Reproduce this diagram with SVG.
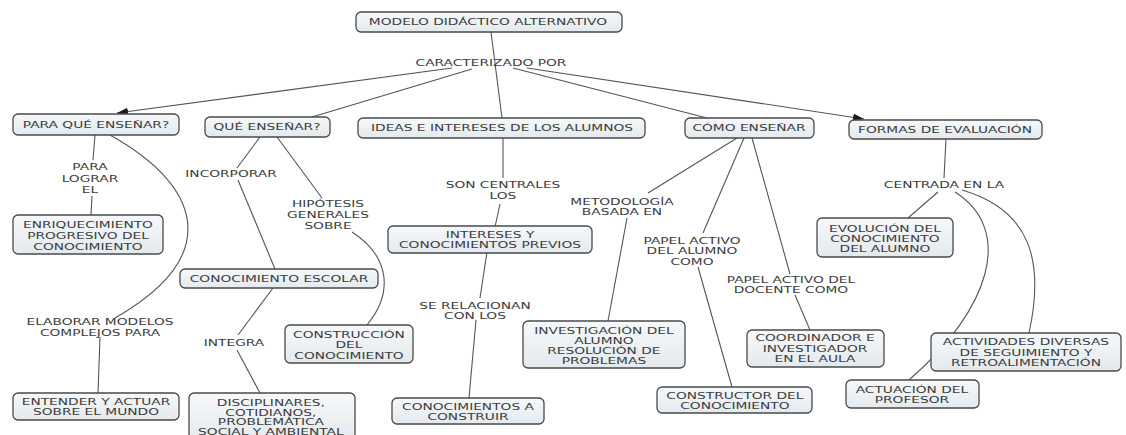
<svg xmlns="http://www.w3.org/2000/svg" width="1126" height="435" viewBox="0 0 1126 435">
<defs>
<linearGradient id="g" x1="0" y1="0" x2="0" y2="1">
<stop offset="0" stop-color="#f6f9fb"/>
<stop offset="1" stop-color="#e3e9ed"/>
</linearGradient>
<marker id="arr" viewBox="0 0 10 7" refX="10" refY="3.5" markerWidth="11" markerHeight="8" markerUnits="userSpaceOnUse" orient="auto">
<path d="M0,0 L10,3.5 L0,7 z" fill="#1a1a1a"/>
</marker>
<style>
.t{font-family:"DejaVu Sans",Verdana,sans-serif;font-size:9.3px;fill:#3c3c3c;text-anchor:middle;transform-box:fill-box;transform-origin:center;transform:scaleX(1.48);}
.b{fill:url(#g);stroke:#4a4a4a;stroke-width:1.3;}
.c{stroke:#555;stroke-width:1.1;fill:none;}
</style>
</defs>
<rect width="1126" height="435" fill="#ffffff"/>
<g id="connectors">
<path class="c" d="M491,32 L502,118"/>
<path class="c" d="M452,68 L117,113" marker-end="url(#arr)"/>
<path class="c" d="M472,69 L312,117"/>
<path class="c" d="M513,68 L707,118"/>
<path class="c" d="M527,68 L864,119" marker-end="url(#arr)"/>
<path class="c" d="M95,135 L93,160"/>
<path class="c" d="M92,196 L91,215"/>
<path class="c" d="M110,135 C200,185 225,255 115,318"/>
<path class="c" d="M100,337 L98,393"/>
<path class="c" d="M260,137 L237,168"/>
<path class="c" d="M277,137 L322,198"/>
<path class="c" d="M238,180 L275,269"/>
<path class="c" d="M352,232 C392,258 392,295 367,325"/>
<path class="c" d="M273,288 L238,335"/>
<path class="c" d="M237,350 L260,393"/>
<path class="c" d="M503,138 L503,178"/>
<path class="c" d="M500,204 L495,227"/>
<path class="c" d="M487,252 L480,298"/>
<path class="c" d="M476,320 L469,398"/>
<path class="c" d="M737,138 L648,193"/>
<path class="c" d="M744,138 L703,233"/>
<path class="c" d="M752,138 L790,274"/>
<path class="c" d="M627,218 L608,321"/>
<path class="c" d="M698,267 L732,387"/>
<path class="c" d="M795,295 L810,330"/>
<path class="c" d="M946,139 L944,178"/>
<path class="c" d="M938,192 L908,218"/>
<path class="c" d="M955,192 C1015,230 990,310 909,380"/>
<path class="c" d="M962,190 C1030,210 1045,260 1029,333"/>
</g>
<g id="n-root"><rect class="b" x="356" y="12" width="266" height="20" rx="5"/><text class="t" x="488" y="25.5">MODELO DIDÁCTICO ALTERNATIVO</text></g>
<g id="l-caracterizado"><text class="t" x="491" y="66.5">CARACTERIZADO POR</text></g>
<g id="n-para"><rect class="b" x="13" y="114" width="166" height="21" rx="5"/><text class="t" x="96" y="128.5">PARA QUÉ ENSEÑAR?</text></g>
<g id="n-que"><rect class="b" x="205" y="117" width="125" height="20" rx="5"/><text class="t" x="267" y="130.5">QUÉ ENSEÑAR?</text></g>
<g id="n-ideas"><rect class="b" x="358" y="118" width="287" height="20" rx="5"/><text class="t" x="502" y="131.5">IDEAS E INTERESES DE LOS ALUMNOS</text></g>
<g id="n-como"><rect class="b" x="685" y="118" width="129" height="20" rx="5"/><text class="t" x="749" y="131.5">CÓMO ENSEÑAR</text></g>
<g id="n-formas"><rect class="b" x="849" y="120" width="193" height="19" rx="5"/><text class="t" x="945" y="133">FORMAS DE EVALUACIÓN</text></g>
<g id="l-paralograr"><text class="t" x="90" y="170"><tspan x="90">PARA</tspan><tspan x="90" dy="11.7">LOGRAR</tspan><tspan x="90" dy="11.7">EL</tspan></text></g>
<g id="n-enriq"><rect class="b" x="13" y="215" width="150" height="39" rx="5"/><text class="t" x="88" y="228.3"><tspan x="88">ENRIQUECIMIENTO</tspan><tspan x="88" dy="11">PROGRESIVO DEL</tspan><tspan x="88" dy="11">CONOCIMIENTO</tspan></text></g>
<g id="l-elaborar"><text class="t" x="100" y="325"><tspan x="100">ELABORAR MODELOS</tspan><tspan x="100" dy="10.7">COMPLEJOS PARA</tspan></text></g>
<g id="n-entender"><rect class="b" x="13" y="393" width="166" height="27" rx="5"/><text class="t" x="96" y="404.7"><tspan x="96">ENTENDER Y ACTUAR</tspan><tspan x="96" dy="10.7">SOBRE EL MUNDO</tspan></text></g>
<g id="l-incorporar"><text class="t" x="231" y="177.3">INCORPORAR</text></g>
<g id="l-hipotesis"><text class="t" x="328" y="207.5"><tspan x="328">HIPÓTESIS</tspan><tspan x="328" dy="10.6">GENERALES</tspan><tspan x="328" dy="10.6">SOBRE</tspan></text></g>
<g id="n-escolar"><rect class="b" x="180" y="269" width="198" height="19" rx="5"/><text class="t" x="279" y="281.7">CONOCIMIENTO ESCOLAR</text></g>
<g id="n-construccion"><rect class="b" x="285" y="325" width="128" height="38" rx="5"/><text class="t" x="349" y="338"><tspan x="349">CONSTRUCCIÓN</tspan><tspan x="349" dy="10.5">DEL</tspan><tspan x="349" dy="10.5">CONOCIMIENTO</tspan></text></g>
<g id="l-integra"><text class="t" x="234" y="346.3">INTEGRA</text></g>
<g id="n-disciplinares"><rect class="b" x="189" y="393" width="166" height="50" rx="5"/><text class="t" x="271" y="406"><tspan x="271">DISCIPLINARES,</tspan><tspan x="271" dy="9.6">COTIDIANOS,</tspan><tspan x="271" dy="9.6">PROBLEMÁTICA</tspan><tspan x="271" dy="9.6">SOCIAL Y AMBIENTAL</tspan></text></g>
<g id="l-centrales"><text class="t" x="503" y="188.3"><tspan x="503">SON CENTRALES</tspan><tspan x="503" dy="10.5">LOS</tspan></text></g>
<g id="n-intereses"><rect class="b" x="388" y="226" width="204" height="27" rx="5"/><text class="t" x="490" y="238"><tspan x="490">INTERESES Y</tspan><tspan x="490" dy="10.3">CONOCIMIENTOS PREVIOS</tspan></text></g>
<g id="l-relacionan"><text class="t" x="475" y="309"><tspan x="475">SE RELACIONAN</tspan><tspan x="475" dy="10.5">CON LOS</tspan></text></g>
<g id="n-construir"><rect class="b" x="392" y="398" width="152" height="26" rx="5"/><text class="t" x="468" y="409.8"><tspan x="468">CONOCIMIENTOS A</tspan><tspan x="468" dy="10.3">CONSTRUIR</tspan></text></g>
<g id="l-metodologia"><text class="t" x="622" y="205"><tspan x="622">METODOLOGÍA</tspan><tspan x="622" dy="10.4">BASADA EN</tspan></text></g>
<g id="n-investigacion"><rect class="b" x="523" y="321" width="162" height="47" rx="5"/><text class="t" x="604" y="334.5"><tspan x="604">INVESTIGACIÓN DEL</tspan><tspan x="604" dy="9.7">ALUMNO</tspan><tspan x="604" dy="9.7">RESOLUCIÓN DE</tspan><tspan x="604" dy="9.7">PROBLEMAS</tspan></text></g>
<g id="l-papelalumno"><text class="t" x="692" y="244"><tspan x="692">PAPEL ACTIVO</tspan><tspan x="692" dy="10.4">DEL ALUMNO</tspan><tspan x="692" dy="10.4">COMO</tspan></text></g>
<g id="n-constructor"><rect class="b" x="657" y="387" width="155" height="26" rx="5"/><text class="t" x="735" y="398.8"><tspan x="735">CONSTRUCTOR DEL</tspan><tspan x="735" dy="10.3">CONOCIMIENTO</tspan></text></g>
<g id="l-papeldocente"><text class="t" x="791" y="282.7"><tspan x="791">PAPEL ACTIVO DEL</tspan><tspan x="791" dy="10.6">DOCENTE COMO</tspan></text></g>
<g id="n-coordinador"><rect class="b" x="747" y="330" width="137" height="37" rx="5"/><text class="t" x="815" y="341.5"><tspan x="815">COORDINADOR E</tspan><tspan x="815" dy="10.2">INVESTIGADOR</tspan><tspan x="815" dy="10.2">EN EL AULA</tspan></text></g>
<g id="l-centrada"><text class="t" x="944" y="188.3">CENTRADA EN LA</text></g>
<g id="n-evolucion"><rect class="b" x="817" y="218" width="136" height="39" rx="5"/><text class="t" x="885" y="232"><tspan x="885">EVOLUCIÓN DEL</tspan><tspan x="885" dy="10">CONOCIMIENTO</tspan><tspan x="885" dy="10">DEL ALUMNO</tspan></text></g>
<g id="n-actividades"><rect class="b" x="931" y="333" width="190" height="38" rx="5"/><text class="t" x="1026" y="345.5"><tspan x="1026">ACTIVIDADES DIVERSAS</tspan><tspan x="1026" dy="10.2">DE SEGUIMIENTO Y</tspan><tspan x="1026" dy="10.2">RETROALIMENTACIÓN</tspan></text></g>
<g id="n-actuacion"><rect class="b" x="846" y="380" width="133" height="28" rx="5"/><text class="t" x="912" y="393"><tspan x="912">ACTUACIÓN DEL</tspan><tspan x="912" dy="10.5">PROFESOR</tspan></text></g>
</svg>
